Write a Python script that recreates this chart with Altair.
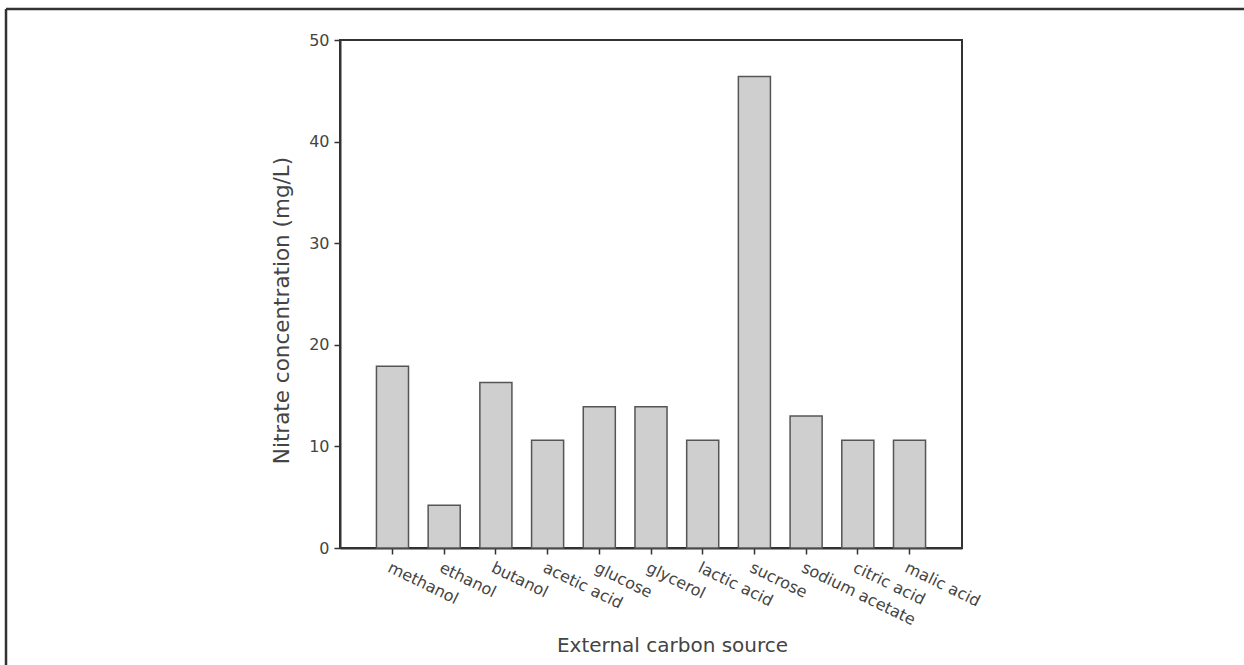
import altair as alt
import pandas as pd

categories = ["methanol", "ethanol", "butanol", "acetic acid", "glucose", "glycerol",
              "lactic acid", "sucrose", "sodium acetate", "citric acid", "malic acid"]
values = [17.9, 4.2, 16.3, 10.6, 13.9, 13.9, 10.6, 46.4, 13.0, 10.6, 10.6]
y_ticks = [0, 10, 20, 30, 40, 50]

df = pd.DataFrame({"source": categories, "nitrate": values})

FONT = "DejaVu Sans"

bars = alt.Chart(df).mark_bar(
    fill="#cfcfcf", stroke="#555555", strokeWidth=1.5
).encode(
    x=alt.X("source:N", sort=categories,
            scale=alt.Scale(paddingInner=0.38, paddingOuter=0.705),
            axis=alt.Axis(title="External carbon source", labelAngle=26,
                          labelAlign="left", labelBaseline="top",
                          labelPadding=5, labelFontSize=16,
                          titleFontSize=20, titleX=332, titleY=97,
                          titleAlign="center", titleBaseline="middle",
                          titleFontWeight="normal")),
    y=alt.Y("nitrate:Q", scale=alt.Scale(domain=[0, 50], nice=False),
            axis=alt.Axis(title="Nitrate concentration (mg/L)", values=y_ticks,
                          grid=False, labelFontSize=16, labelPadding=5,
                          titleFontSize=21.5, titleX=-58, titleY=270,
                          titleAlign="center", titleBaseline="middle",
                          titleFontWeight="normal")),
)

frame_data = alt.Data(values=[{"k": 1}])
top_line = alt.Chart(frame_data).mark_rule(color="#333333", strokeWidth=2.5).encode(
    x=alt.value(-334), x2=alt.value(904), y=alt.value(-31)
)
left_line = alt.Chart(frame_data).mark_rule(color="#333333", strokeWidth=2.5).encode(
    x=alt.value(-334), y=alt.value(-31), y2=alt.value(625)
)

chart = alt.layer(bars, top_line, left_line).properties(
    width=622, height=508,
    background="white",
    autosize=alt.AutoSizeParams(type="none"),
    padding={"left": 340, "top": 40, "right": 282, "bottom": 117},
).configure_view(
    stroke="#333333", strokeWidth=2
).configure_axis(
    domainColor="#333333", domainWidth=2, tickColor="#333333", tickWidth=1.5,
    tickSize=6, labelColor="#444444", titleColor="#444444",
    labelFont=FONT, titleFont=FONT
)

chart.save("out.html", embed_options={"renderer": "svg", "actions": False})
